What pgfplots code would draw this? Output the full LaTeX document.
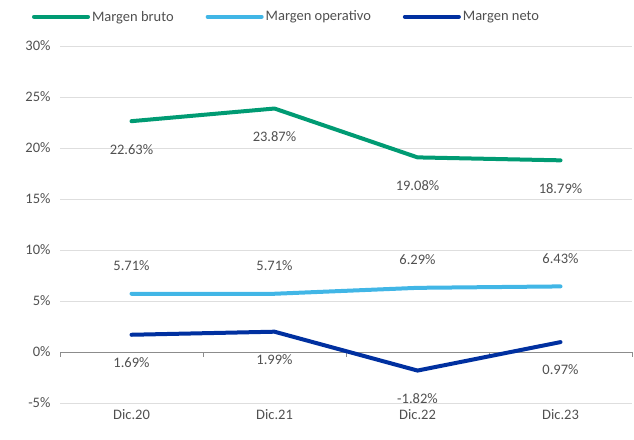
\documentclass[border=0pt]{standalone}
\usepackage{pgfplots}
\pgfplotsset{compat=1.18}
\usepackage{fontspec}
\setmainfont{Carlito}

\definecolor{mbruto}{RGB}{0,155,115}
\definecolor{moper}{RGB}{65,182,230}
\definecolor{mneto}{RGB}{0,48,160}
\definecolor{txtgray}{RGB}{80,80,80}

\begin{document}
\begin{tikzpicture}
\begin{axis}[
  scale only axis,
  width=572pt,
  height=357pt,
  xmin=-0.5, xmax=3.5,
  ymin=-5, ymax=30,
  ytick={-5,0,5,10,15,20,25,30},
  yticklabels={-5\%,0\%,5\%,10\%,15\%,20\%,25\%,30\%},
  xtick={0,1,2,3},
  xticklabels={Dic.20,Dic.21,Dic.22,Dic.23},
  major tick length=0pt,
  axis line style={draw=none},
  ymajorgrids,
  grid style={draw=black!13, line width=0.8pt},
  tick label style={font=\fontsize{14.5}{16}\selectfont, text=txtgray},
  yticklabel style={xshift=-6pt},
  xticklabel style={yshift=-3pt},
  clip=false,
  point meta=explicit symbolic,
  every node near coord/.append style={font=\fontsize{14.5}{16}\selectfont, text=txtgray, anchor=center},
  legend style={draw=none, at={(0.396,1.082)}, anchor=center,
    font=\fontsize{14.5}{16}\selectfont, text=txtgray,
    legend columns=3,
    /tikz/every even column/.append style={column sep=30pt}},
  legend image code/.code={\draw[#1, line cap=round] (0pt,0pt) -- (54pt,0pt);},
  legend cell align=left,
]
\draw[black!45, line width=0.8pt] (axis cs:-0.5,0) -- (axis cs:3.5,0);
\pgfplotsinvokeforeach{-0.5,0.5,1.5,2.5,3.5}{
  \draw[black!45, line width=0.8pt] (axis cs:#1,0) -- ([yshift=-5pt]axis cs:#1,0);
}

\addplot[mbruto, line width=4pt, line cap=round, line join=round,
  nodes near coords, every node near coord/.append style={yshift=-28pt}]
  coordinates {(0,22.63)[22.63\%] (1,23.87)[23.87\%] (2,19.08)[19.08\%] (3,18.79)[18.79\%]};
\addlegendentry{Margen bruto}

\addplot[moper, line width=4pt, line cap=round, line join=round,
  nodes near coords, every node near coord/.append style={yshift=28pt}]
  coordinates {(0,5.71)[5.71\%] (1,5.71)[5.71\%] (2,6.29)[6.29\%] (3,6.43)[6.43\%]};
\addlegendentry{Margen operativo}

\addplot[mneto, line width=4pt, line cap=round, line join=round,
  nodes near coords, every node near coord/.append style={yshift=-28pt}]
  coordinates {(0,1.69)[1.69\%] (1,1.99)[1.99\%] (2,-1.82)[-1.82\%] (3,0.97)[0.97\%]};
\addlegendentry{Margen neto}
\end{axis}
\path (current axis.south west) ++(-60pt,-36pt) coordinate (bl);
\path (current axis.north east) ++(2pt,46pt) coordinate (tr);
\path (bl) rectangle (tr);
\end{tikzpicture}
\end{document}
